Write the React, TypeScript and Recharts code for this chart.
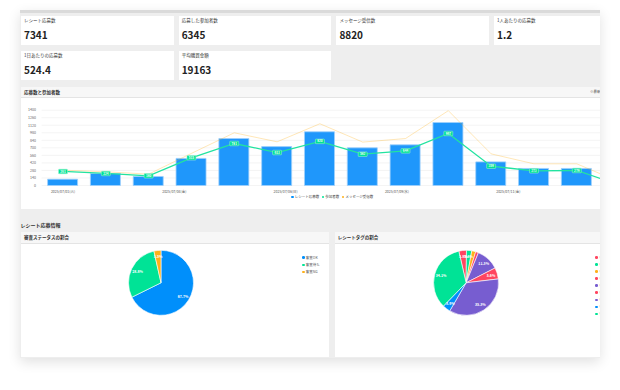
import React from 'react';
import {
  ComposedChart,
  Bar,
  Line,
  XAxis,
  YAxis,
  CartesianGrid,
  Legend,
  LabelList,
  PieChart,
  Pie,
  Cell,
} from 'recharts';

const FONT = '"Noto Sans CJK JP", "Noto Sans", sans-serif';

// summary cards
const statTitles = ['レシート応募数', '応募した参加者数', 'メッセージ受信数', '1人あたりの応募数', '1日あたりの応募数', '平均購買金額'];
const statValues = ['7341', '6345', '8820', '1.2', '524.4', '19163'];

// daily chart
const days = [
  '07/01(火)', '07/02(水)', '07/03(木)', '07/04(金)', '07/05(土)', '07/06(日)', '07/07(月)',
  '07/08(火)', '07/09(水)', '07/10(木)', '07/11(金)', '07/12(土)', '07/13(日)', '07/14(月)',
];
const receipts = [117, 224, 168, 504, 873, 723, 999, 700, 756, 1171, 439, 317, 317, 33];
const participants = [261, 224, 180, 515, 781, 613, 820, 582, 644, 967, 359, 273, 279, 10];
const messages = [285, 255, 211, 597, 980, 812, 1148, 807, 873, 1391, 588, 403, 403, 67];
const yTicks = [0, 140, 280, 420, 560, 700, 840, 980, 1120, 1260, 1400];
const dateTickPos = [0, 2.6, 5.2, 7.8, 10.4];
const dateTickLabels = ['2025/07/01(火)', '2025/07/04(金)', '2025/07/06(日)', '2025/07/09(水)', '2025/07/11(金)'];
const seriesNames = ['レシート応募数', '参加者数', 'メッセージ受信数'];
const seriesColors = ['#008FFB', '#00E396', '#FEB019'];

// status pie
const statusNames = ['審査OK', '審査待ち', '審査NG'];
const statusShares = [67.7, 28.8, 3.5];
const statusColors = ['#008FFB', '#00E396', '#FEB019'];

// tag pie
const tagNames = ['タグ1', 'タグ2', 'タグ3', 'タグ4', 'タグ5', 'タグ6', 'タグ7', 'タグ8', 'タグ9'];
const tagShares = [3.8, 2.6, 2.0, 1.4, 11.3, 5.6, 35.3, 3.9, 34.1];
const tagColors = ['#FF4560', '#00E396', '#FEB019', '#FF4560', '#775DD0', '#FF4560', '#775DD0', '#008FFB', '#00E396'];

const dailyData = days.map((date, i) => ({
  date,
  idx: i,
  receipts: receipts[i],
  participants: participants[i],
  messages: messages[i],
}));
const statusData = statusNames.map((name, i) => ({ name, value: statusShares[i] }));
const tagData = tagNames.map((name, i) => ({ name, value: tagShares[i] }));

const RAD = Math.PI / 180;

const PointTag = (props: any) => {
  const { x, y, value } = props;
  if (x == null || y == null) return null;
  return (
    <g>
      <rect x={x - 4.5} y={y - 2.3} width={9} height={4.6} rx={0.6} fill="#00E396" stroke="#a6f3d3" strokeWidth={0.5} />
      <text x={x} y={y + 1.1} textAnchor="middle" fontSize={3} fontWeight={700} fill="#fff">
        {value}
      </text>
    </g>
  );
};

const SeriesLegend = () => (
  <div style={{ display: 'flex', justifyContent: 'center', alignItems: 'center', height: 8, fontSize: 3.5, color: '#444', fontFamily: FONT }}>
    {seriesNames.map((n, i) => (
      <span key={n} style={{ display: 'flex', alignItems: 'center', marginRight: 2.5 }}>
        <span style={{ width: 2.6, height: 2.6, borderRadius: '50%', background: seriesColors[i], marginRight: 1 }} />
        {n}
      </span>
    ))}
  </div>
);

const pieLegend = (names: string[], colors: string[]) => () => (
  <div style={{ fontSize: 3.5, color: '#555', fontFamily: FONT }}>
    {names.map((n, i) => (
      <div key={n} style={{ display: 'flex', alignItems: 'center', height: 7.1, whiteSpace: 'nowrap' }}>
        <span style={{ width: 2.6, height: 2.6, borderRadius: '50%', background: colors[i], marginRight: 1.2 }} />
        {n}
      </div>
    ))}
  </div>
);

const pctLabel = (props: any) => {
  const { cx, cy, midAngle, outerRadius, percent } = props;
  if (percent < 0.025) return null;
  const r = outerRadius * 0.8;
  const x = cx + r * Math.cos(-midAngle * RAD);
  const y = cy + r * Math.sin(-midAngle * RAD);
  return (
    <text x={x} y={y} fill="#fff" fontSize={3.5} fontWeight={700} textAnchor="middle" dominantBaseline="central">
      {(percent * 100).toFixed(1)}%
    </text>
  );
};

const cardHeader: React.CSSProperties = {
  height: 11,
  borderBottom: '1px solid #e4e4e4',
  background: '#f7f7f7',
  fontSize: 4.5,
  fontWeight: 700,
  color: '#333',
  lineHeight: '11px',
  paddingLeft: 3,
  position: 'relative',
};

export default function App() {
  return (
    <div style={{ position: 'absolute', left: 0, top: 0, width: 620, height: 390, background: '#fff', overflow: 'hidden', fontFamily: FONT }}>
      <div
        style={{
          position: 'absolute',
          left: 20,
          top: 10,
          width: 580,
          height: 348,
          background: '#eeeeee',
          overflow: 'hidden',
          boxShadow: '0 4px 12px rgba(0,0,0,0.12)',
        }}
      >
        <div style={{ position: 'absolute', left: 0, top: 0, width: 580, height: 2.5, background: '#dadada' }} />

        {statTitles.map((t, i) => {
          const col = i < 4 ? i : i - 4;
          const row = i < 4 ? 0 : 1;
          return (
            <div
              key={t}
              style={{ position: 'absolute', left: 1 + col * 157.7, top: 5.7 + row * 35, width: 152.5, height: 29, background: '#fff' }}
            >
              <div style={{ position: 'absolute', left: 3, top: 2.5, fontSize: 4.5, lineHeight: '5px', color: '#333', whiteSpace: 'nowrap' }}>{t}</div>
              <div style={{ position: 'absolute', left: 3, top: 14, fontSize: 10, lineHeight: '10px', fontWeight: 700, color: '#222' }}>
                {statValues[i]}
              </div>
            </div>
          );
        })}

        <div style={{ position: 'absolute', left: 1, top: 76.7, width: 640, height: 122.8, background: '#fff' }}>
          <div style={{ ...cardHeader, height: 10.8, lineHeight: '10.8px' }}>
            応募数と参加者数
            <span style={{ position: 'absolute', left: 569, top: 0, fontSize: 3.5, fontWeight: 400, color: '#555' }}>※最新の集計</span>
          </div>
          <ComposedChart width={622} height={110} data={dailyData} margin={{ top: 12.2, right: 2, left: 5, bottom: 7.5 }}>
            <CartesianGrid vertical={false} stroke="#ececec" strokeWidth={0.6} />
            <XAxis dataKey="date" hide height={0} />
            <XAxis
              xAxisId="date"
              type="number"
              dataKey="idx"
              domain={[-0.5, 13.5]}
              allowDataOverflow
              ticks={dateTickPos}
              interval={0}
              tickFormatter={(v: number, i: number) => dateTickLabels[i]}
              axisLine={false}
              tickLine={false}
              tickSize={3}
              tickMargin={2}
              height={7}
              tick={{ fontSize: 3.5, fill: '#555' }}
            />
            <YAxis
              domain={[0, 1400]}
              ticks={yTicks}
              interval={0}
              width={15.6}
              axisLine={false}
              tickLine={false}
              tickSize={3}
              tickMargin={2.6}
              tick={{ fontSize: 3.6, fill: '#666' }}
            />
            <Legend verticalAlign="bottom" height={8} content={SeriesLegend} />
            <Bar dataKey="receipts" name={seriesNames[0]} fill="#1f97fb" stroke="#9fd0fb" strokeWidth={0.8} barSize={30} isAnimationActive={false} />
            <Line
              type="linear"
              dataKey="messages"
              name={seriesNames[2]}
              stroke="#FEB019"
              strokeOpacity={0.35}
              strokeWidth={0.9}
              dot={false}
              isAnimationActive={false}
            />
            <Line
              type="linear"
              dataKey="participants"
              name={seriesNames[1]}
              stroke="#22e3a0"
              strokeWidth={1.3}
              dot={false}
              isAnimationActive={false}
            >
              <LabelList dataKey="participants" content={PointTag} />
            </Line>
          </ComposedChart>
        </div>

        <div style={{ position: 'absolute', left: 0.5, top: 211.5, fontSize: 5, lineHeight: '6px', fontWeight: 700, color: '#333' }}>
          レシート応募情報
        </div>

        <div style={{ position: 'absolute', left: 1, top: 221.7, width: 308.3, height: 125, background: '#fff' }}>
          <div style={cardHeader}>審査ステータスの割合</div>
          <PieChart width={308} height={113} margin={{ top: 0, right: 0, bottom: 0, left: 0 }}>
            <Pie
              data={statusData}
              dataKey="value"
              nameKey="name"
              cx={140}
              cy={38.8}
              outerRadius={32.5}
              startAngle={90}
              endAngle={-270}
              stroke="#fff"
              strokeWidth={0.6}
              label={pctLabel}
              labelLine={false}
              isAnimationActive={false}
            >
              {statusData.map((d, i) => (
                <Cell key={d.name} fill={statusColors[i]} />
              ))}
            </Pie>
            <Legend
              layout="vertical"
              align="right"
              verticalAlign="top"
              content={pieLegend(statusNames, statusColors)}
              wrapperStyle={{ left: 281, top: 10.5, right: 'auto', width: 'auto' }}
            />
          </PieChart>
        </div>

        <div style={{ position: 'absolute', left: 314.7, top: 221.7, width: 320, height: 125, background: '#fff' }}>
          <div style={cardHeader}>レシートタグの割合</div>
          <PieChart width={320} height={113} margin={{ top: 0, right: 0, bottom: 0, left: 0 }}>
            <Pie
              data={tagData}
              dataKey="value"
              nameKey="name"
              cx={131.1}
              cy={38.8}
              outerRadius={32.5}
              startAngle={103}
              endAngle={-257}
              stroke="#fff"
              strokeWidth={0.6}
              label={pctLabel}
              labelLine={false}
              isAnimationActive={false}
            >
              {tagData.map((d, i) => (
                <Cell key={d.name} fill={tagColors[i]} />
              ))}
            </Pie>
            <Legend
              layout="vertical"
              align="right"
              verticalAlign="top"
              content={pieLegend(tagNames, tagColors)}
              wrapperStyle={{ left: 260.7, top: 10, right: 'auto', width: 'auto' }}
            />
          </PieChart>
        </div>
      </div>
    </div>
  );
}
